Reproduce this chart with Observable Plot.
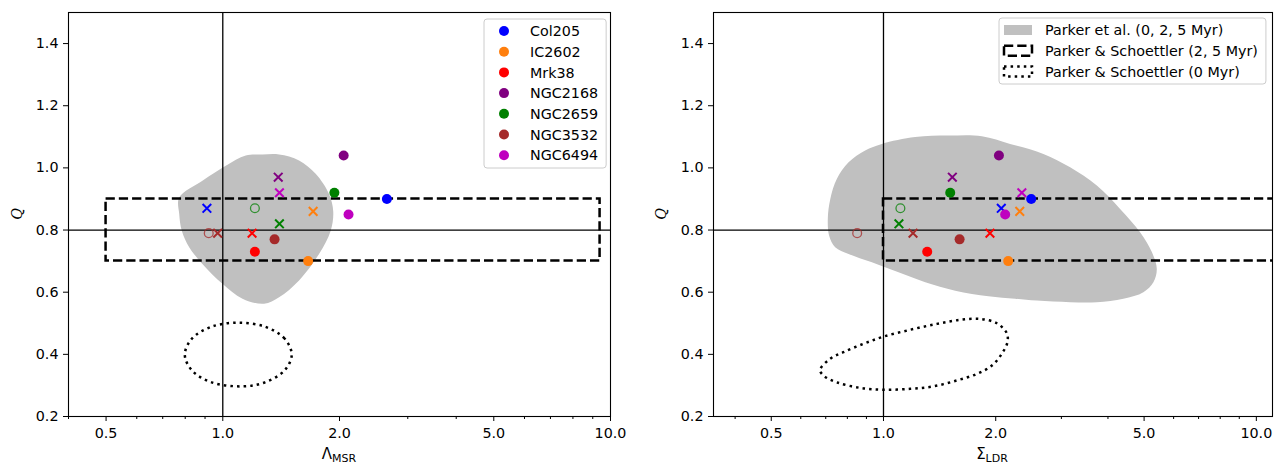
<!DOCTYPE html>
<html><head><meta charset="utf-8">
<script src="https://cdn.jsdelivr.net/npm/d3@7"></script>
<script src="https://cdn.jsdelivr.net/npm/@observablehq/plot@0.6"></script>
<style>
body{margin:0;background:#fff;font-family:"DejaVu Sans",sans-serif;}
#wrap{position:relative;width:1279px;height:464px;overflow:hidden;background:#fff;}
.pane{position:absolute;top:0;}
</style></head><body><div id="wrap"></div>
<script>
// ---- data ----
const clusters = ["Col205","IC2602","Mrk38","NGC2168","NGC2659","NGC3532","NGC6494"];
const clusterColors = ["#0000ff","#ff7f0e","#ff0000","#800080","#008000","#a52a2a","#bf00bf"];

// Q values (same in both panels)
const qFilled = [0.90, 0.70, 0.73, 1.04, 0.92, 0.77, 0.85];
const qCross  = [0.87, 0.86, 0.79, 0.97, 0.82, 0.79, 0.92];
const qOpen   = [null, null, null, null, 0.87, 0.79, null];

// Lambda_MSR
const lambdaFilled = [2.65, 1.66, 1.21, 2.05, 1.94, 1.36, 2.11];
const lambdaCross  = [0.91, 1.71, 1.19, 1.39, 1.40, 0.97, 1.40];
const lambdaOpen   = [null, null, null, null, 1.21, 0.92, null];

// Sigma_LDR
const sigmaFilled = [2.49, 2.16, 1.31, 2.04, 1.51, 1.60, 2.12];
const sigmaCross  = [2.07, 2.32, 1.93, 1.53, 1.10, 1.20, 2.35];
const sigmaOpen   = [null, null, null, null, 1.11, 0.85, null];

// Parker et al. (0,2,5 Myr) region outlines
const parkerLamX = [1.266,1.146,1.018,0.886,0.772,0.772,0.784,0.819,0.886,0.998,1.124,1.278,1.397,1.573,1.771,1.898,1.927,1.879,1.736,1.573,1.397];
const parkerLamQ = [1.043,1.040,1.007,0.959,0.905,0.852,0.798,0.745,0.691,0.627,0.579,0.563,0.584,0.638,0.723,0.798,0.860,0.916,0.981,1.024,1.043];
const parkerSigX = [1.216,1.494,1.836,2.186,2.685,3.167,3.734,4.311,4.878,5.245,5.408,5.296,4.978,4.399,3.734,3.167,2.578,2.255,1.912,1.557,1.294,1.097,0.931,0.806,0.742,0.715,0.709,0.720,0.750,0.806,0.893,0.990];
const parkerSigQ = [1.099,1.104,1.102,1.077,1.045,1.002,0.943,0.868,0.793,0.729,0.675,0.632,0.600,0.579,0.568,0.568,0.573,0.579,0.587,0.605,0.632,0.664,0.696,0.723,0.745,0.782,0.836,0.900,0.965,1.018,1.056,1.077];

// Parker & Schoettler (0 Myr) outlines
const ps0LamX = [1.506,1.443,1.285,1.096,0.936,0.833,0.798,0.833,0.936,1.13,1.285,1.443];
const ps0LamQ = [0.399,0.451,0.489,0.502,0.489,0.451,0.399,0.348,0.310,0.297,0.310,0.348];
const ps0SigX = [0.676,0.720,0.781,0.884,1.0,1.179,1.391,1.606,1.816,2.014,2.142,2.150,2.077,1.953,1.780,1.573,1.361,1.179,1.0,0.866,0.750,0.690];
const ps0SigQ = [0.350,0.386,0.407,0.434,0.457,0.479,0.498,0.511,0.514,0.500,0.468,0.439,0.402,0.364,0.337,0.316,0.297,0.289,0.286,0.292,0.310,0.332];

// Parker & Schoettler (2,5 Myr) boxes
const ps25Lam = {x1: 0.5, x2: 9.4, y1: 0.7, y2: 0.9};
const ps25Sig = {x1: 1.0, x2: 20, y1: 0.7, y2: 0.9};

const yTicks = [0.2, 0.4, 0.6, 0.8, 1.0, 1.2, 1.4];
const xMajor = [0.5, 1, 2, 5, 10];
const xMinor = [0.4, 0.6, 0.7, 0.8, 0.9, 3, 4, 6, 7, 8, 9];

const legendLabels = ["Parker et al. (0, 2, 5 Myr)", "Parker & Schoettler (2, 5 Myr)", "Parker & Schoettler (0 Myr)"];

// ---- drawing ----
const FONT = '"DejaVu Sans", sans-serif';
const FS = "14.3px";
function rows(xs, qs){
  return clusters.map((c,i)=>({cluster:c, x:xs[i], q:qs[i]})).filter(d=>d.x!=null && d.q!=null);
}
function panel(o){
  const blob = o.blobX.map((x,i)=>({x, y:o.blobY[i]}));
  const ell = o.ellX.map((x,i)=>({x, y:o.ellY[i]}));
  return Plot.plot({
    width:o.width, height:464, marginLeft:o.ml, marginRight:o.mr, marginTop:12, marginBottom:48,
    style:{fontFamily:FONT, fontSize:FS, color:"#000", background:"transparent", overflow:"visible"},
    x:{type:"log", domain:o.xDomain},
    y:{domain:[0.2,1.5]},
    color:{domain:clusters, range:clusterColors},
    marks:[
      Plot.line(blob,{x:"x",y:"y",curve:"catmull-rom-closed",fill:"#c0c0c0",stroke:"none"}),
      Plot.rect([o.rect],{x1:"x1",x2:"x2",y1:"y1",y2:"y2",fill:"none",stroke:"#000",strokeWidth:2.5,strokeDasharray:"9.25,4",clip:true}),
      Plot.line(ell,{x:"x",y:"y",curve:"catmull-rom-closed",stroke:"#000",strokeWidth:2.5,strokeDasharray:"2.5,4.1",strokeLinecap:"butt"}),
      Plot.ruleX([1],{stroke:"#000",strokeWidth:1.3}),
      Plot.ruleY([0.8],{stroke:"#000",strokeWidth:1.3}),
      Plot.dot(rows(o.openX,qOpen),{x:"x",y:"q",r:4.4,stroke:"cluster",fill:"none",strokeWidth:1.3,strokeOpacity:0.75}),
      Plot.dot(rows(o.crossX,qCross),{x:"x",y:"q",r:4,symbol:"times",stroke:"cluster",fill:"none",strokeWidth:2}),
      Plot.dot(rows(o.filledX,qFilled),{x:"x",y:"q",r:5,fill:"cluster",stroke:"none"}),
      Plot.axisY({ticks:yTicks, tickFormat:d=>d.toFixed(1), tickSize:5, tickPadding:5, label:null}),
      Plot.axisX({ticks:xMajor, tickFormat:d=>d.toFixed(1), tickSize:5, tickPadding:6, label:null}),
      Plot.axisX({ticks:xMinor, tickFormat:()=>"", tickSize:3, label:null}),
      Plot.frame({stroke:"#000", strokeWidth:1.1})
    ]
  });
}

const wrap = document.getElementById("wrap");
function place(el, left){
  const d = document.createElement("div"); d.className="pane"; d.style.left = left+"px"; d.appendChild(el); wrap.appendChild(d);
}
place(panel({width:640, ml:68, mr:30, xDomain:[0.4,10], blobX:parkerLamX, blobY:parkerLamQ, ellX:ps0LamX, ellY:ps0LamQ, rect:ps25Lam, filledX:lambdaFilled, crossX:lambdaCross, openX:lambdaOpen}), 0);
place(panel({width:639, ml:73, mr:7, xDomain:[0.35,11.05], blobX:parkerSigX, blobY:parkerSigQ, ellX:ps0SigX, ellY:ps0SigQ, rect:ps25Sig, filledX:sigmaFilled, crossX:sigmaCross, openX:sigmaOpen}), 640);

// ---- overlay: axis labels & legends ----
const ov = d3.select(wrap).append("svg").attr("width",1279).attr("height",464)
  .style("position","absolute").style("left","0px").style("top","0px")
  .style("font-family",FONT).style("font-size",FS);

function xLabel(cx, main, sub){
  const t = ov.append("text").attr("x",cx).attr("y",459).attr("text-anchor","middle").attr("fill","#000");
  t.append("tspan").attr("font-size","15px").text(main);
  t.append("tspan").attr("font-size","11px").attr("dy",3).text(sub);
}
function qLabel(x){
  ov.append("text").attr("transform",`translate(${x},214) rotate(-90)`).attr("text-anchor","middle")
    .attr("font-family","DejaVu Serif").attr("font-style","italic").attr("fill","#000").text("Q");
}
xLabel(339,"Λ","MSR");
xLabel(992,"Σ","LDR");
qLabel(22);
qLabel(666);

// left legend
{
  const g = ov.append("g");
  const box = g.append("rect").attr("x",484).attr("y",19).attr("height",149).attr("rx",3)
    .attr("fill","#fff").attr("fill-opacity",0.8).attr("stroke","#cccccc").attr("stroke-width",1);
  let maxw = 0;
  clusters.forEach((c,i)=>{
    const cy = 31 + i*20.7;
    g.append("circle").attr("cx",504).attr("cy",cy).attr("r",5).attr("fill",clusterColors[i]);
    const t = g.append("text").attr("x",530).attr("y",cy).attr("dy","0.36em").attr("fill","#000").text(c);
    maxw = Math.max(maxw, t.node().getComputedTextLength());
  });
  box.attr("width", 530 + maxw + 8 - 484);
}
// right legend
{
  const g = ov.append("g");
  const box = g.append("rect").attr("x",999).attr("y",18).attr("height",66).attr("rx",3)
    .attr("fill","#fff").attr("fill-opacity",0.8).attr("stroke","#cccccc").attr("stroke-width",1);
  let maxw = 0;
  legendLabels.forEach((lab,i)=>{
    const cy = 30 + i*20.7;
    const r = g.append("rect").attr("x",1004).attr("y",cy-5).attr("width",28).attr("height",10);
    if(i===0) r.attr("fill","#c0c0c0").attr("stroke","none");
    else if(i===1) r.attr("fill","none").attr("stroke","#000").attr("stroke-width",2.5).attr("stroke-dasharray","9.25,4");
    else r.attr("fill","none").attr("stroke","#000").attr("stroke-width",2.5).attr("stroke-dasharray","2.5,4.1");
    const t = g.append("text").attr("x",1045).attr("y",cy).attr("dy","0.36em").attr("fill","#000").text(lab);
    maxw = Math.max(maxw, t.node().getComputedTextLength());
  });
  box.attr("width", 1045 + maxw + 8 - 999);
}
</script>
</body></html>
